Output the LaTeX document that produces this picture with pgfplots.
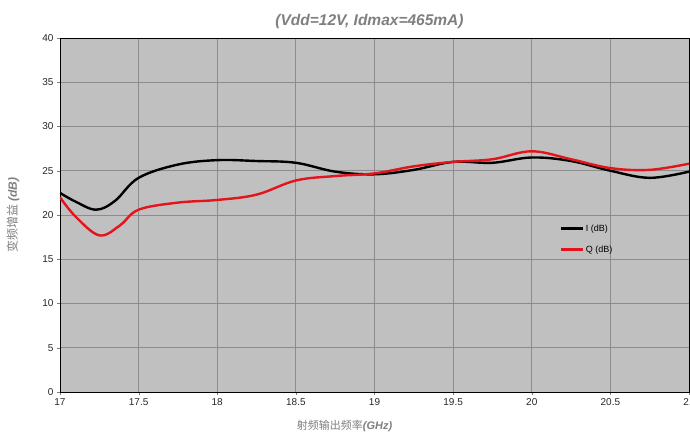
\documentclass[border=0pt]{standalone}
\usepackage{pgfplots}
\pgfplotsset{compat=1.18}
\usepackage{fontspec}
\setmainfont{Liberation Sans}
\newfontfamily\cjk{Noto Sans CJK SC}
\definecolor{bg}{HTML}{C0C0C0}
\definecolor{gridc}{HTML}{8C8C8C}
\definecolor{txtgray}{HTML}{7F7F7F}
\definecolor{qred}{HTML}{E3141C}
\begin{document}
\begin{tikzpicture}
\begin{axis}[
  name=ax,
  scale only axis,
  width=629pt, height=354pt,
  xmin=17, xmax=21, ymin=0, ymax=40,
  xtick={17,17.5,...,21}, ytick={0,5,...,40},
  xticklabels={17,17.5,18,18.5,19,19.5,20,20.5,21},
  /pgf/number format/assume math mode=true,
  tick label style={font=\fontsize{10}{12}\selectfont, text=black!85},
  tick align=outside, tick pos=left,
  major tick length=3pt,
  grid=major,
  major grid style={gridc, line width=0.8pt},
  axis background/.style={fill=bg},
  axis line style={gridc, line width=0.8pt},
  x axis line style={black},
  y axis line style={black},
  title={\textcolor{txtgray}{\bfseries\itshape (Vdd=12V, Idmax=465mA)}},
  title style={font=\fontsize{15.5}{18}\selectfont, at={(0.5,1)}, anchor=south, yshift=0pt, xshift=-5pt},
  xlabel={\textcolor{txtgray}{{\cjk 射频输出频率}\bfseries\itshape(GHz)}},
  xlabel style={font=\fontsize{11}{13}\selectfont, yshift=-8pt, xshift=-30pt},
  ylabel={\textcolor{txtgray}{{\cjk 变频增益} \bfseries\itshape(dB)}},
  ylabel style={font=\fontsize{12}{13}\selectfont, yshift=16pt},
  legend style={draw=none, fill=none, at={(0.79,0.485)}, anchor=north west,
    font=\fontsize{9}{11}\selectfont, row sep=9pt},
  legend cell align=left,
  legend image code/.code={\draw[#1, line width=2.4pt] (0cm,0cm) -- (0.75cm,0cm);},
]
\addplot[black, line width=2.4pt, smooth, tension=0.6] coordinates {
(17,22.5) (17.1,21.5) (17.23,20.6) (17.35,21.6) (17.5,24.2) (17.75,25.7) (18,26.2)
(18.25,26.1) (18.5,25.9) (18.75,24.9) (19,24.6) (19.25,25.1) (19.5,26.0) (19.75,25.9)
(20,26.5) (20.25,26.1) (20.5,25.0) (20.75,24.2) (21,24.9)};
\addlegendentry{I (dB)}
\addplot[qred, line width=2.4pt, smooth, tension=0.6] coordinates {
(17,22.0) (17.1,19.8) (17.25,17.7) (17.38,18.8) (17.5,20.6) (17.75,21.4) (18,21.7)
(18.25,22.3) (18.5,23.9) (18.75,24.4) (19,24.7) (19.25,25.5) (19.5,26.0) (19.75,26.3)
(20,27.2) (20.25,26.3) (20.5,25.3) (20.75,25.1) (21,25.8)};
\addlegendentry{Q (dB)}
\end{axis}
\pgfresetboundingbox
\path (ax.south west) ++(-60pt,-40pt) rectangle ++(690pt,432pt);
\end{tikzpicture}
\end{document}
